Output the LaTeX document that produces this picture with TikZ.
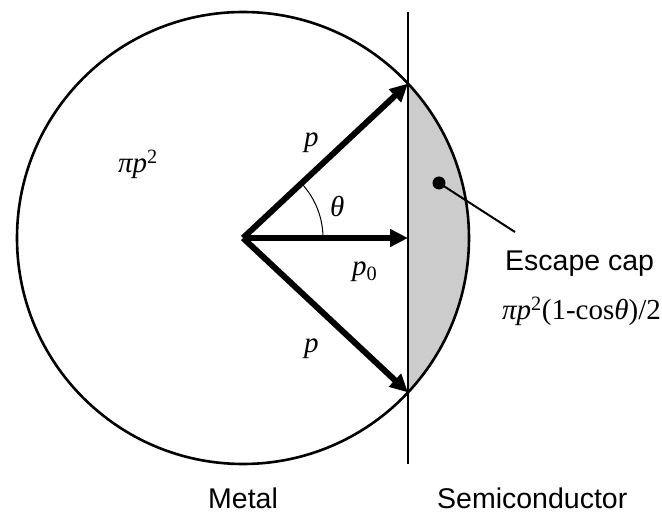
\documentclass[tikz,border=0pt]{standalone}
\usepackage{fontspec}
\setmainfont{Liberation Serif}
\newfontfamily\arialfont{Liberation Sans}
\usepackage{tikz}
\usetikzlibrary{arrows.meta,positioning,calc}
\definecolor{capGray}{RGB}{204,204,204}

\tikzset{
  momentum/.style={line width=6pt,-{Triangle[length=18pt,width=17pt]}},
  regionlabel/.style={font=\arialfont\fontsize{28.5}{30}\selectfont,inner sep=0pt,anchor=base west},
  symlabel/.style={font=\fontsize{29}{31}\selectfont,inner sep=0pt,anchor=base west},
}

\begin{document}
\begin{tikzpicture}[x=1pt,y=1pt]
  \useasboundingbox (-243,-276) rectangle (419,238);
  \def\rad{226}
  \def\ang{43.1}
  % Points on the sphere and the interface
  \coordinate (O) at (0,0);
  \coordinate (pTop) at (\ang:\rad);
  \coordinate (pBot) at (-\ang:\rad);
  \coordinate (pMid) at (pTop |- O);
  \coordinate (wallTop) at ($(pMid)+(0,226)$);
  \coordinate (wallBot) at ($(pMid)+(0,-226)$);
  % Escape cap (shaded)
  \fill[capGray] (pBot) arc[start angle=-\ang,end angle=\ang,radius=\rad] -- cycle;
  % Sphere and interface
  \draw[line width=2.6pt] (O) circle[radius=\rad];
  \draw[line width=2.6pt] (wallTop) -- (wallBot);
  % Angle
  \draw[line width=1pt] (80,0) arc[start angle=0,end angle=\ang,radius=80];
  % Momenta
  \draw[momentum] (O) -- (pTop);
  \draw[momentum] (O) -- (pMid);
  \draw[momentum] (O) -- (pBot);
  % Marker for the cap
  \node[circle,fill,inner sep=0pt,minimum size=13pt] (dot) at (196,55) {};
  \coordinate (leadEnd) at (272,6);
  \draw[line width=2pt] (dot.center) -- (leadEnd);
  % Labels
  \node[symlabel] (area) at (-125,65) {\textit{πp}\textsuperscript{2}};
  \node[symlabel] (pUp) at (61,91) {\textit{p}};
  \node[symlabel] (theta) at (87,21) {\textit{θ}};
  \node[symlabel] (pZero) at (109,-38) {\textit{p}\textsubscript{0}};
  \node[symlabel] (pDown) at (61,-114) {\textit{p}};
  \node[regionlabel] (cap) at (262,-33) {Escape cap};
  \node[symlabel] (capArea) at (259,-82) {\textit{πp}\textsuperscript{2}(1-cos\textit{θ})/2};
  \node[regionlabel] (metal) at (-35,-270) {Metal};
  \node[regionlabel] (semi) at (194,-270) {Semiconductor};
\end{tikzpicture}
\end{document}
